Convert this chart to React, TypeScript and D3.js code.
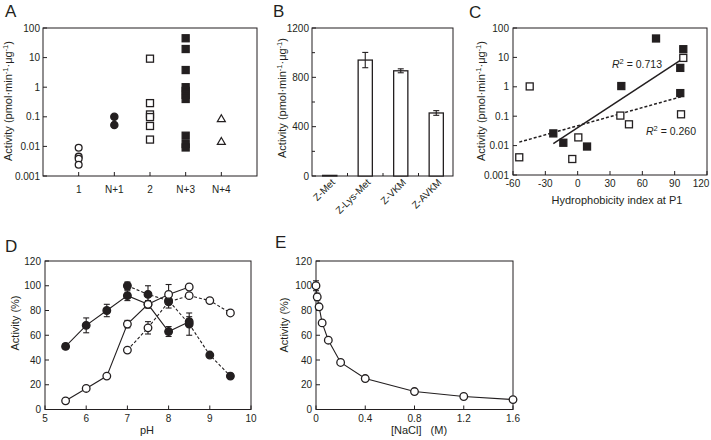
import React from "react";
import * as d3 from "d3";

const FONT = "'Liberation Sans', Arial, sans-serif";
const INK = "#231f20";

// ---------- Panel A ----------
const aCategories = ["1", "N+1", "2", "N+3", "N+4"];
const aGroup1 = [0.009, 0.0045, 0.0038, 0.0024];
const aGroupN1 = [0.1, 0.053];
const aGroup2 = [9.2, 0.29, 0.12, 0.098, 0.049, 0.017];
const aGroupN3 = [45, 19.5, 3.8, 1.0, 0.75, 0.55, 0.4, 0.023, 0.012, 0.0092];
const aGroupN4 = [0.085, 0.0145];
const logTicks = [0.001, 0.01, 0.1, 1, 10, 100];
const logTickLabels = ["0.001", "0.01", "0.1", "1", "10", "100"];

// ---------- Panel B ----------
const bCategories = ["Z-Met", "Z-Lys-Met", "Z-VKM", "Z-AVKM"];
const bValues = [5, 940, 853, 511];
const bErrors = [2, 62, 16, 19];
const bMajorTicks = [0, 400, 800, 1200];
const bMinorTicks = [200, 600, 1000];

// ---------- Panel C ----------
const cFilledX = [72.7, 98, 95.2, 40.5, 95.2, -22.6, -13.3, 8.7];
const cFilledY = [44, 19, 4.4, 1.06, 0.61, 0.026, 0.0125, 0.0093];
const cOpenX = [98, -44.5, 39.6, 47.6, 95.9, 0.6, -54.2, -5];
const cOpenY = [9.6, 1.03, 0.105, 0.053, 0.116, 0.019, 0.004, 0.0035];
const cXTicks = [-60, -30, 0, 30, 60, 90, 120];
const cR2Labels = ["0.713", "0.260"];

// ---------- Panel D ----------
const dFilledSolidX = [5.5, 6, 6.5, 7, 7.5, 8, 8.5];
const dFilledSolidY = [51, 68, 80, 92, 85, 63, 71];
const dFilledSolidErr = [2, 6, 5, 4, 3, 4, 4];
const dFilledDashX = [7, 7.5, 8, 8.5, 9, 9.5];
const dFilledDashY = [100, 93, 88, 69, 44, 27];
const dFilledDashErr = [3, 7, 3, 9, 1, 1];
const dOpenSolidX = [5.5, 6, 6.5, 7, 7.5, 8, 8.5];
const dOpenSolidY = [7, 17, 27, 69, 85, 93, 99];
const dOpenSolidErr = [0, 0, 0, 3, 1, 8, 2];
const dOpenDashX = [7, 7.5, 8, 8.5, 9, 9.5];
const dOpenDashY = [48, 66, 87, 92, 88, 78];
const dOpenDashErr = [0, 5, 5, 0, 0, 2];
const dXTicks = [5, 6, 7, 8, 9, 10];
const pctTicks = [0, 20, 40, 60, 80, 100, 120];

// ---------- Panel E ----------
const eX = [0, 0.01, 0.025, 0.05, 0.1, 0.2, 0.4, 0.8, 1.2, 1.6];
const eY = [100, 91, 83, 70, 56, 38, 25, 14.5, 10.5, 8];
const eErr = [4, 3, 2, 2, 1, 1, 1, 1, 1, 1];
const eXTicks = [0, 0.4, 0.8, 1.2, 1.6];

// ---------- scales ----------
const aX = d3.scaleLinear().domain([0, 6]).range([43, 257]);
const aY = d3.scaleLog().domain([0.001, 100]).range([176, 28]);
const bX = d3.scaleBand().domain(bCategories).range([312, 454]).paddingInner(0.6).paddingOuter(0.3);
const bY = d3.scaleLinear().domain([0, 1200]).range([176, 28]);
const cX = d3.scaleLinear().domain([-60, 120]).range([513, 707]);
const cY = d3.scaleLog().domain([0.001, 100]).range([175, 28]);
const dX = d3.scaleLinear().domain([5, 10]).range([45, 251]);
const dY = d3.scaleLinear().domain([0, 120]).range([409.5, 261]);
const eXs = d3.scaleLinear().domain([0, 1.6]).range([316, 513]);
const eYs = d3.scaleLinear().domain([0, 120]).range([409.5, 261]);

const SW = 1.1;

function Circle({ x, y, r = 3.6, filled }: any) {
  return <circle cx={x} cy={y} r={r} fill={filled ? INK : "#fff"} stroke={INK} strokeWidth={1.3} />;
}
function Square({ x, y, s = 7, filled }: any) {
  return <rect x={x - s / 2} y={y - s / 2} width={s} height={s} fill={filled ? INK : "#fff"} stroke={INK} strokeWidth={1.3} />;
}
function Triangle({ x, y, s = 8 }: any) {
  const h = s * 0.87;
  return (
    <path
      d={`M${x},${y - h * 0.6}L${x + s / 2},${y + h * 0.4}L${x - s / 2},${y + h * 0.4}Z`}
      fill="#fff"
      stroke={INK}
      strokeWidth={1.2}
    />
  );
}

function Box({ x0, x1, y0, y1 }: any) {
  return <rect x={x0} y={y0} width={x1 - x0} height={y1 - y0} fill="none" stroke={INK} strokeWidth={1} />;
}

function YTitle({ x, y, children }: any) {
  return (
    <text transform={`translate(${x},${y}) rotate(-90)`} textAnchor="middle" fontSize={11} fill={INK}>
      {children}
    </text>
  );
}

function ActivityTitle({ x, y }: any) {
  return (
    <YTitle x={x} y={y}>
      Activity (pmol·min<tspan dy={-4} fontSize={7.5}>-1</tspan>
      <tspan dy={4}>·μg</tspan>
      <tspan dy={-4} fontSize={7.5}>-1</tspan>
      <tspan dy={4}>)</tspan>
    </YTitle>
  );
}

function ErrBar({ x, y1, y2, w = 3 }: any) {
  if (Math.abs(y1 - y2) < 0.5) return null;
  return (
    <g stroke={INK} strokeWidth={1.1}>
      <line x1={x} x2={x} y1={y1} y2={y2} />
      <line x1={x - w} x2={x + w} y1={y1} y2={y1} />
      <line x1={x - w} x2={x + w} y1={y2} y2={y2} />
    </g>
  );
}

function regression(xs: number[], ys: number[]) {
  const ly = ys.map((v) => Math.log10(v));
  const mx = d3.mean(xs) as number;
  const my = d3.mean(ly) as number;
  let sxy = 0, sxx = 0;
  xs.forEach((x, i) => {
    sxy += (x - mx) * (ly[i] - my);
    sxx += (x - mx) * (x - mx);
  });
  const slope = sxy / sxx;
  const x0 = d3.min(xs) as number;
  const x1 = d3.max(xs) as number;
  const f = (x: number) => Math.pow(10, my + slope * (x - mx));
  return [
    [x0, f(x0)],
    [x1, f(x1)],
  ];
}

function PanelA() {
  const groups = [aGroup1, aGroupN1, aGroup2, aGroupN3, aGroupN4];
  return (
    <g>
      <text x={5} y={17} fontSize={17} fill={INK}>A</text>
      <Box x0={43} x1={257} y0={28} y1={176} />
      {logTicks.map((t, i) => (
        <g key={t}>
          <line x1={43} x2={47} y1={aY(t)} y2={aY(t)} stroke={INK} />
          <text x={40} y={aY(t) + 3.5} textAnchor="end" fontSize={10} fill={INK}>{logTickLabels[i]}</text>
        </g>
      ))}
      {aCategories.map((c, i) => (
        <g key={c}>
          <line x1={aX(i + 1)} x2={aX(i + 1)} y1={176} y2={172} stroke={INK} />
          <text x={aX(i + 1)} y={193} textAnchor="middle" fontSize={10} fill={INK}>{c}</text>
        </g>
      ))}
      <ActivityTitle x={12} y={101} />
      {groups.map((g, gi) =>
        g.map((v, j) => {
          const x = aX(gi + 1);
          const y = aY(v);
          if (gi === 0) return <Circle key={gi + "-" + j} x={x} y={y} r={3.4} filled={false} />;
          if (gi === 1) return <Circle key={gi + "-" + j} x={x} y={y} r={3.6} filled />;
          if (gi === 2) return <Square key={gi + "-" + j} x={x} y={y} filled={false} />;
          if (gi === 3) return <Square key={gi + "-" + j} x={x} y={y} filled />;
          return <Triangle key={gi + "-" + j} x={x} y={y} />;
        })
      )}
    </g>
  );
}

function PanelB() {
  const step = bX.step();
  return (
    <g>
      <text x={273} y={17} fontSize={17} fill={INK}>B</text>
      <Box x0={312} x1={453} y0={28} y1={176} />
      {bMajorTicks.map((t) => (
        <g key={t}>
          <line x1={312} x2={316} y1={bY(t)} y2={bY(t)} stroke={INK} />
          <text x={309} y={bY(t) + 3.5} textAnchor="end" fontSize={10} fill={INK}>{t}</text>
        </g>
      ))}
      {bMinorTicks.map((t) => (
        <line key={t} x1={312} x2={315} y1={bY(t)} y2={bY(t)} stroke={INK} />
      ))}
      {bCategories.slice(1).map((c) => {
        const x = (bX(c) as number) - (step * 0.6) / 2;
        return <line key={c} x1={x} x2={x} y1={176} y2={173} stroke={INK} />;
      })}
      <ActivityTitle x={286} y={98} />
      {bCategories.map((c, i) => {
        const x = bX(c) as number;
        const w = bX.bandwidth();
        const cx = x + w / 2;
        return (
          <g key={c}>
            <rect x={x} y={bY(bValues[i])} width={w} height={176 - bY(bValues[i])} fill="#fff" stroke={INK} strokeWidth={1.3} />
            <ErrBar x={cx} y1={bY(bValues[i] + bErrors[i])} y2={bY(bValues[i] - bErrors[i])} />
            <text transform={`translate(${cx + 6},${183}) rotate(-45)`} textAnchor="end" fontSize={10} fill={INK}>{c}</text>
          </g>
        );
      })}
    </g>
  );
}

function PanelC() {
  const lineGen = d3.line<number[]>().x((d) => cX(d[0])).y((d) => cY(d[1]));
  const regF = regression(cFilledX, cFilledY);
  const regO = regression(cOpenX, cOpenY);
  return (
    <g>
      <text x={469} y={18} fontSize={17} fill={INK}>C</text>
      <Box x0={513} x1={707} y0={28} y1={175} />
      {logTicks.map((t, i) => (
        <g key={t}>
          <line x1={513} x2={517} y1={cY(t)} y2={cY(t)} stroke={INK} />
          <text x={509} y={cY(t) + 3.5} textAnchor="end" fontSize={10} fill={INK}>{logTickLabels[i]}</text>
        </g>
      ))}
      {cXTicks.map((t) => (
        <g key={t}>
          <line x1={cX(t)} x2={cX(t)} y1={175} y2={171} stroke={INK} />
          <text x={Math.min(cX(t), 701)} y={187} textAnchor="middle" fontSize={10} fill={INK}>{t}</text>
        </g>
      ))}
      <text x={617} y={204} textAnchor="middle" fontSize={11} fill={INK}>Hydrophobicity index at P1</text>
      <ActivityTitle x={485} y={101} />
      <path d={lineGen(regO) as string} fill="none" stroke={INK} strokeWidth={1.5} strokeDasharray="3,2" />
      <path d={lineGen(regF) as string} fill="none" stroke={INK} strokeWidth={1.5} />
      {cOpenX.map((x, i) => (
        <Square key={"o" + i} x={cX(x)} y={cY(cOpenY[i])} filled={false} />
      ))}
      {cFilledX.map((x, i) => (
        <Square key={"f" + i} x={cX(x)} y={cY(cFilledY[i])} filled />
      ))}
      <text x={612} y={68} fontSize={10.5} fill={INK}>
        <tspan fontStyle="italic">R</tspan>
        <tspan dy={-4} fontSize={7.5}>2</tspan>
        <tspan dy={4}> = {cR2Labels[0]}</tspan>
      </text>
      <text x={646} y={135} fontSize={10.5} fill={INK}>
        <tspan fontStyle="italic">R</tspan>
        <tspan dy={-4} fontSize={7.5}>2</tspan>
        <tspan dy={4}> = {cR2Labels[1]}</tspan>
      </text>
    </g>
  );
}

function Series({ xs, ys, errs, xs_, ys_, filled, dashed }: any) {
  const pts = xs.map((x: number, i: number) => [xs_(x), ys_(ys[i])]);
  const line = d3.line();
  return (
    <g>
      <path d={line(pts) as string} fill="none" stroke={INK} strokeWidth={SW} strokeDasharray={dashed ? "3,2" : undefined} />
      {xs.map((x: number, i: number) => (
        <ErrBar key={"e" + i} x={xs_(x)} y1={ys_(ys[i] + errs[i])} y2={ys_(ys[i] - errs[i])} />
      ))}
      {pts.map((p: number[], i: number) => (
        <Circle key={i} x={p[0]} y={p[1]} r={3.8} filled={filled} />
      ))}
    </g>
  );
}

function PanelD() {
  return (
    <g>
      <text x={5} y={252} fontSize={17} fill={INK}>D</text>
      <Box x0={45} x1={251} y0={261} y1={409.5} />
      {pctTicks.map((t) => (
        <g key={t}>
          <line x1={45} x2={49} y1={dY(t)} y2={dY(t)} stroke={INK} />
          <text x={41} y={dY(t) + 3.5} textAnchor="end" fontSize={10} fill={INK}>{t}</text>
        </g>
      ))}
      {dXTicks.map((t) => (
        <g key={t}>
          <line x1={dX(t)} x2={dX(t)} y1={409.5} y2={405.5} stroke={INK} />
          <text x={dX(t)} y={422} textAnchor="middle" fontSize={10} fill={INK}>{t}</text>
        </g>
      ))}
      <text x={147} y={434} textAnchor="middle" fontSize={11} fill={INK}>pH</text>
      <YTitle x={19} y={323}>Activity (%)</YTitle>
      <Series xs={dOpenDashX} ys={dOpenDashY} errs={dOpenDashErr} xs_={dX} ys_={dY} filled={false} dashed />
      <Series xs={dFilledDashX} ys={dFilledDashY} errs={dFilledDashErr} xs_={dX} ys_={dY} filled dashed />
      <Series xs={dFilledSolidX} ys={dFilledSolidY} errs={dFilledSolidErr} xs_={dX} ys_={dY} filled />
      <Series xs={dOpenSolidX} ys={dOpenSolidY} errs={dOpenSolidErr} xs_={dX} ys_={dY} filled={false} />
    </g>
  );
}

function PanelE() {
  return (
    <g>
      <text x={275} y={248} fontSize={17} fill={INK}>E</text>
      <Box x0={316} x1={513} y0={261} y1={409.5} />
      {pctTicks.map((t) => (
        <g key={t}>
          <line x1={316} x2={320} y1={eYs(t)} y2={eYs(t)} stroke={INK} />
          <text x={312} y={eYs(t) + 3.5} textAnchor="end" fontSize={10} fill={INK}>{t}</text>
        </g>
      ))}
      {eXTicks.map((t) => (
        <g key={t}>
          <line x1={eXs(t)} x2={eXs(t)} y1={409.5} y2={405.5} stroke={INK} />
          <text x={eXs(t)} y={422} textAnchor="middle" fontSize={10} fill={INK}>{t}</text>
        </g>
      ))}
      <text x={419} y={434} textAnchor="middle" fontSize={11} fill={INK} style={{ whiteSpace: "pre" }}>
        {"[NaCl]   (M)"}
      </text>
      <YTitle x={288} y={325}>Activity (%)</YTitle>
      <Series xs={eX} ys={eY} errs={eErr} xs_={eXs} ys_={eYs} filled={false} />
    </g>
  );
}

export default function App() {
  return (
    <svg width={711} height={440} viewBox="0 0 711 440" style={{ position: "absolute", left: 0, top: 0, fontFamily: FONT, background: "#fff" }}>
      <rect width={711} height={440} fill="#fff" />
      <PanelA />
      <PanelB />
      <PanelC />
      <PanelD />
      <PanelE />
    </svg>
  );
}
